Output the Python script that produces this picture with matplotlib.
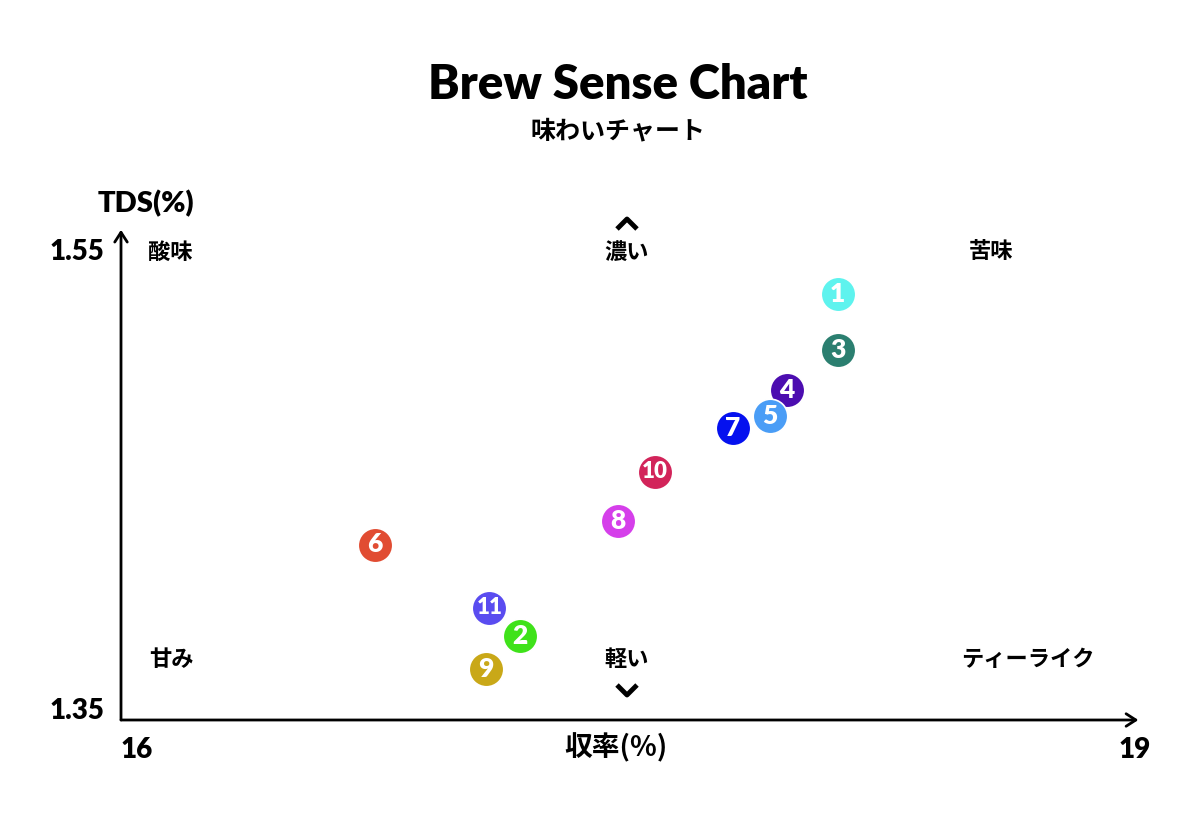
import matplotlib.pyplot as plt
from matplotlib.lines import Line2D

# 抽出 (%) vs TDS (%)
labels = ["11", "1", "2", "3", "4", "5", "6", "7", "8", "9", "10"]
yield_pct = [17.09, 18.12, 17.18, 18.12, 17.97, 17.92, 16.75, 17.81, 17.47, 17.08, 17.58]
tds_pct = [1.398, 1.532, 1.386, 1.508, 1.491, 1.480, 1.425, 1.475, 1.435, 1.372, 1.456]
colors = ["#5a4cf0", "#5ef3ee", "#3fe21a", "#2b7f70", "#4c0db0", "#4a9df6",
          "#e14c32", "#0511ef", "#d53fea", "#c9a818", "#d2245a"]

x_ticks = [16, 19]
y_ticks = [1.35, 1.55]

corner_labels = ["酸味", "苦味", "甘み", "ティーライク"]

JP = ["Noto Sans CJK JP", "DejaVu Sans"]
LAT = ["Lato", "Noto Sans CJK JP", "DejaVu Sans"]
plt.rcParams["font.family"] = JP

fig = plt.figure(figsize=(12, 8.18), dpi=100)
ax = fig.add_axes([121 / 1200, 98 / 818, 1014 / 1200, 468 / 818])
ax.set_xlim(x_ticks[0], x_ticks[1])
ax.set_ylim(y_ticks[0], y_ticks[1])
for s in ax.spines.values():
    s.set_visible(False)
ax.set_xticks([])
ax.set_yticks([])

# axes with arrow heads
ax.annotate("", xy=(19.01, 1.35), xytext=(16, 1.35), annotation_clip=False,
            arrowprops=dict(arrowstyle="->,head_length=0.7,head_width=0.45", lw=2, color="black",
                            shrinkA=0, shrinkB=0))
ax.annotate("", xy=(16, 1.5595), xytext=(16, 1.35), annotation_clip=False,
            arrowprops=dict(arrowstyle="->,head_length=0.7,head_width=0.45", lw=2, color="black",
                            shrinkA=0, shrinkB=0))

# points
for lab, x, y, c in zip(labels, yield_pct, tds_pct, colors):
    ax.scatter(x, y, s=620, color=c, edgecolors="white", linewidths=1.2, zorder=3, clip_on=False)
    ax.text(x, y, lab, color="white", fontsize=19 if len(lab) == 1 else 16,
            fontweight="heavy", family=LAT, ha="center", va="center", zorder=4)

# title
fig.text(618 / 1200, 1 - 85 / 818, "Brew Sense Chart", fontsize=34, fontweight="heavy",
         family=LAT, ha="center", va="center")
fig.text(618 / 1200, 1 - 131 / 818, "味わいチャート", fontsize=18, fontweight="bold",
         ha="center", va="center")

# axis labels / tick labels
fig.text(146 / 1200, 1 - 204 / 818, "TDS(%)", fontsize=21, fontweight="heavy", family=LAT,
         ha="center", va="center")
fig.text(616 / 1200, 1 - 748 / 818, "収率(%)", fontsize=20, fontweight="bold",
         ha="center", va="center")
fig.text(104 / 1200, 1 - 252 / 818, "1.55", fontsize=20, fontweight="heavy", family=LAT,
         ha="right", va="center")
fig.text(104 / 1200, 1 - 711 / 818, "1.35", fontsize=20, fontweight="heavy", family=LAT,
         ha="right", va="center")
fig.text(137 / 1200, 1 - 750 / 818, "16", fontsize=20, fontweight="heavy", family=LAT,
         ha="center", va="center")
fig.text(1135 / 1200, 1 - 750 / 818, "19", fontsize=20, fontweight="heavy", family=LAT,
         ha="center", va="center")

# quadrant labels
pos = {"酸味": (170, 252), "苦味": (991, 252), "甘み": (171, 660), "ティーライク": (1028, 660)}
for txt in corner_labels:
    px, py = pos[txt]
    fig.text(px / 1200, 1 - py / 818, txt, fontsize=16, fontweight="bold", ha="center", va="center")
fig.text(627 / 1200, 1 - 252 / 818, "濃い", fontsize=16, fontweight="bold", ha="center", va="center")
fig.text(627 / 1200, 1 - 660 / 818, "軽い", fontsize=16, fontweight="bold", ha="center", va="center")

# chevrons
def chevron(cx, cy, up):
    d = -5 if up else 5
    xs = [(cx - 10) / 1200, cx / 1200, (cx + 10) / 1200]
    ys = [1 - (cy - d) / 818, 1 - (cy + d) / 818, 1 - (cy - d) / 818]
    fig.add_artist(Line2D(xs, ys, color="black", lw=3.5, solid_capstyle="butt"))

chevron(627, 224, True)
chevron(627, 690, False)

fig.savefig("out.png", dpi=100, facecolor="white")
